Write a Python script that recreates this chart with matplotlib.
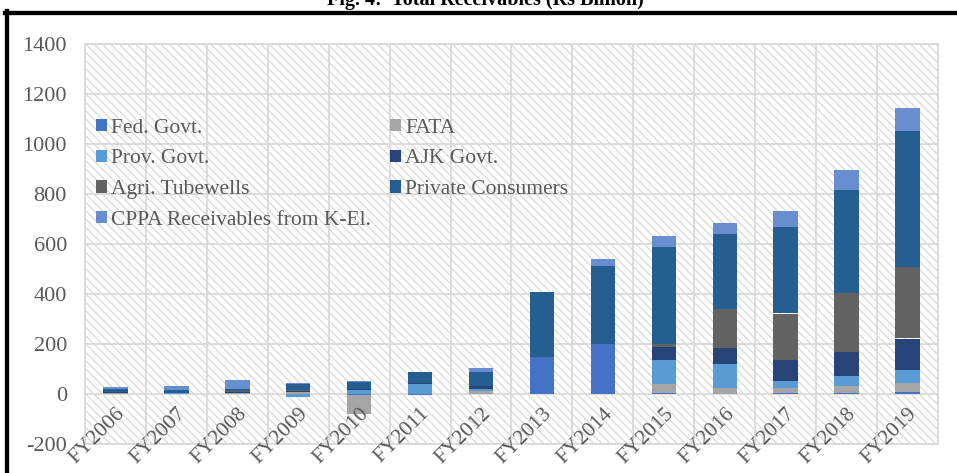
import matplotlib
matplotlib.use('Agg')
import matplotlib.pyplot as plt
import numpy as np
from matplotlib.patches import Rectangle
from matplotlib.lines import Line2D

years = ['FY2006', 'FY2007', 'FY2008', 'FY2009', 'FY2010', 'FY2011', 'FY2012',
         'FY2013', 'FY2014', 'FY2015', 'FY2016', 'FY2017', 'FY2018', 'FY2019']

fed = [1, 0, 0, 0, -5, -5, 0, 150, 200, 4, 0, 3, 6, 10]
fata = [3, 2, 4, 8, -75, 2, 14, 0, 0, 35, 24, 21, 27, 34]
prov = [2, 1, 2, -11, 17, 40, 8, 0, 0, 97, 98, 30, 39, 53]
ajk = [1, 0, 1, 3, 3, 2, 9, 0, 0, 53, 64, 82, 98, 125]
agri = [2, 1, 4, 6, 1, 0, 2, 0, 0, 10, 155, 186, 234, 286]
private = [13, 11, 9, 22, 29, 45, 54, 260, 310, 388, 297, 347, 413, 542]
cppa = [6, 19, 35, 4, 4, 0, 17, 0, 30, 44, 47, 61, 80, 94]

series = [
    ('Fed. Govt.', fed, '#4472C4'),
    ('FATA', fata, '#A5A5A5'),
    ('Prov. Govt.', prov, '#5B9BD5'),
    ('AJK Govt.', ajk, '#264478'),
    ('Agri. Tubewells', agri, '#636363'),
    ('Private Consumers', private, '#255E91'),
    ('CPPA Receivables from K-El.', cppa, '#698ED0'),
]

plt.rcParams['font.family'] = ['Liberation Serif', 'DejaVu Serif']
plt.rcParams['axes.unicode_minus'] = False
plt.rcParams['hatch.linewidth'] = 0.8
grey_txt = '#595959'
grid_c = '#d9d9d9'

fig = plt.figure(figsize=(9.57, 4.73), dpi=100)
ax = fig.add_axes([85/957, 1-444/473, (938-85)/957, 400/473])

# hatched background of the plot area
ax.add_patch(Rectangle((0, 0), 1, 1, transform=ax.transAxes, facecolor='white',
                       edgecolor='#d6d6d6', hatch='\\\\\\\\', lw=0, zorder=0))

x = np.arange(len(years))
pos_bottom = np.zeros(len(years))
neg_bottom = np.zeros(len(years))
handles = {}
for name, vals, col in series:
    v = np.array(vals, dtype=float)
    bottom = np.where(v >= 0, pos_bottom, neg_bottom)
    b = ax.bar(x, v, 0.4, bottom=bottom, color=col, zorder=3)
    pos_bottom = pos_bottom + np.where(v > 0, v, 0)
    neg_bottom = neg_bottom + np.where(v < 0, v, 0)
    handles[name] = b

ax.set_xlim(-0.5, len(years) - 0.5)
ax.set_ylim(-200, 1400)
ax.set_yticks(np.arange(-200, 1401, 200))
ax.set_xticks(np.arange(-0.5, len(years), 1.0))
ax.set_xticklabels([])
ax.grid(True, color=grid_c, lw=1.3, zorder=1)
ax.set_axisbelow(True)
ax.tick_params(length=0)
ax.tick_params(axis='y', labelsize=16, labelcolor=grey_txt, pad=13)
for s in ax.spines.values():
    s.set_color(grid_c)
    s.set_linewidth(1.3)

# rotated category labels just under the zero line
for i, lab in enumerate(years):
    ax.text(i + 0.0, -40, lab, rotation=45, rotation_mode='anchor', ha='right', va='top',
            fontsize=15.5, color=grey_txt, zorder=4)

order = ['Fed. Govt.', 'Prov. Govt.', 'Agri. Tubewells', 'CPPA Receivables from K-El.',
         'FATA', 'AJK Govt.', 'Private Consumers']
leg = ax.legend([handles[n] for n in order], order, ncol=2, loc='upper left',
                bbox_to_anchor=(0.0, 0.84), frameon=False, fontsize=15.5,
                handlelength=0.5, handleheight=0.5, handletextpad=0.2,
                labelspacing=0.54, columnspacing=0.9, borderaxespad=0.1)
for t in leg.get_texts():
    t.set_color(grey_txt)

# black frame of the figure, cut at right and bottom
fig.add_artist(Line2D([5/957, 1], [1-12.8/473, 1-12.8/473], color='black', lw=3.1,
                      transform=fig.transFigure))
fig.add_artist(Line2D([7/957, 7/957], [0, 1-11/473], color='black', lw=3.1,
                      transform=fig.transFigure))

fig.text(485/957, 1-5/473, 'Fig. 4:  Total Receivables (Rs Billion)', ha='center',
         va='baseline', fontsize=14.5, fontweight='bold', color='black')

fig.savefig('out.png', dpi=100)
